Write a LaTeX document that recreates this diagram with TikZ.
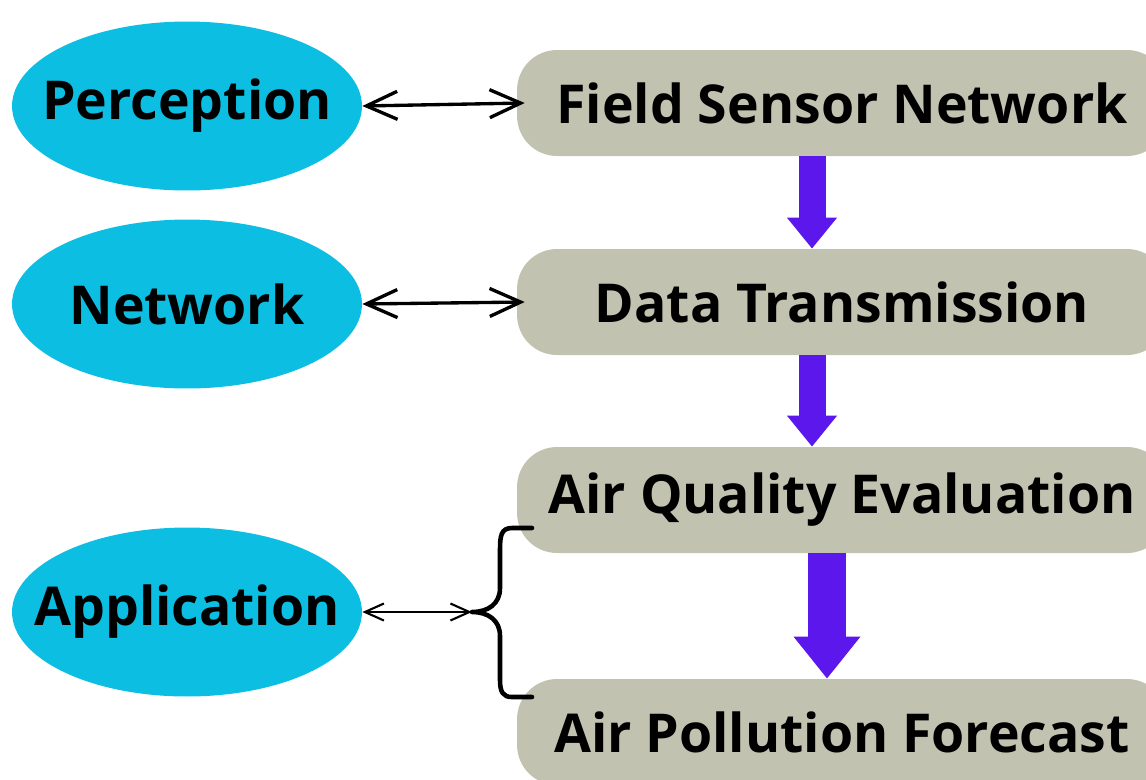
\documentclass[tikz,border=0pt]{standalone}
\usepackage{fontspec}
\setmainfont{Open Sans}
\definecolor{layercyan}{HTML}{0DBEE3}
\definecolor{stagegray}{HTML}{C1C2AF}
\definecolor{flowpurple}{HTML}{5C17EC}
\tikzstyle{layer}=[ellipse,fill=layercyan,minimum width=7cm,minimum height=3.38cm,
inner xsep=-0.6cm,inner ysep=-0.3cm,font=\fontsize{30.5}{34}\selectfont\bfseries]
\tikzstyle{stage}=[rectangle,rounded corners=0.8cm,fill=stagegray,minimum width=13cm,
minimum height=2.12cm,inner sep=0pt,font=\fontsize{30.5}{34}\selectfont\bfseries]
\tikzstyle{link}=[line width=1.9pt,{Straight Barb[length=0.62cm,width=0.56cm]}-{Straight Barb[length=0.62cm,width=0.56cm]}]
\tikzstyle{tlink}=[line width=1.2pt,{Straight Barb[length=0.38cm,width=0.34cm]}-{Straight Barb[length=0.38cm,width=0.34cm]}]
\tikzstyle{flow}=[flowpurple,line width=0.54cm,-{Triangle[width=0.96cm,length=0.62cm]}]
\tikzstyle{bigflow}=[flowpurple,line width=0.76cm,-{Triangle[width=1.28cm,length=0.84cm]}]
\usetikzlibrary{arrows.meta,positioning,shapes}

\begin{document}
\begin{tikzpicture}[x=0.02cm,y=-0.02cm]
            \useasboundingbox (0,0) rectangle (1146,779);

            % LAYERS

            \node[layer] (perc) at (187,106) {Perception};
            \node[layer] (netw) at (187,304) {Network};
            \node[layer] (appl) at (187,612) {Application};

            % STAGES

            \node[stage] (fsn) at (842,103) {Field Sensor Network};
            \node[stage] (dtr) at (842,302) {Data Transmission};
            \node[stage] (aqe) at (842,500) {Air Quality Evaluation};
            \node[stage] (apf) at (842,732) {Air Pollution Forecast};

            % Flow between stages

            \draw[flow] ([xshift=-0.6cm]fsn.south) -- ([xshift=-0.6cm]dtr.north);
            \draw[flow] ([xshift=-0.6cm]dtr.south) -- ([xshift=-0.6cm]aqe.north);
            \draw[bigflow] ([xshift=-0.3cm]aqe.south) -- ([xshift=-0.3cm]apf.north);

            % Layer links

            \draw[link] (perc.east) -- ([xshift=0.16cm]fsn.west);
            \draw[link] (netw.east) -- ([xshift=0.16cm]dtr.west);

            % Brace

            \coordinate (brtip) at (472,612);
            \draw[line width=2.6pt,line cap=round,line join=round]
                (532,528) -- (512,528) .. controls (501,528) and (500,536) .. (500,550)
                -- (500,588) .. controls (500,604) and (488,612) .. (brtip)
                .. controls (488,612) and (500,620) .. (500,636)
                -- (500,680) .. controls (500,692) and (503,697) .. (512,697) -- (532,697);
            \draw[tlink] (appl.east) -- (brtip);

        \end{tikzpicture}
\end{document}
